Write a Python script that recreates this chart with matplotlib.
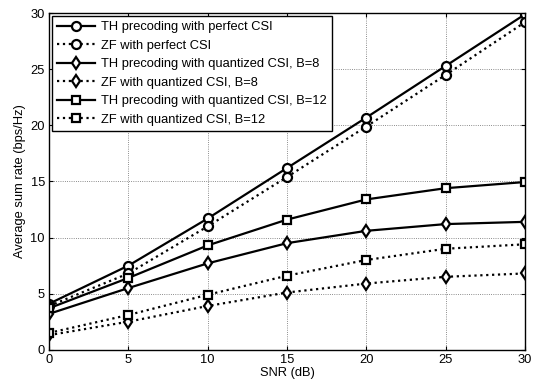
"""
    Average sum rate vs SNR
"""

from matplotlib import pyplot as plt

plt.rcParams['font.family'] = ['Liberation Sans', 'DejaVu Sans']

snr = [0, 5, 10, 15, 20, 25, 30]

th_perfect = [4.1, 7.5, 11.7, 16.2, 20.7, 25.3, 29.9]
zf_perfect = [3.9, 6.8, 11.0, 15.4, 19.9, 24.5, 29.2]
th_b8 = [3.2, 5.5, 7.7, 9.5, 10.6, 11.2, 11.4]
zf_b8 = [1.3, 2.5, 3.9, 5.1, 5.9, 6.5, 6.8]
th_b12 = [3.7, 6.4, 9.3, 11.6, 13.4, 14.4, 14.95]
zf_b12 = [1.5, 3.1, 4.9, 6.6, 8.0, 9.0, 9.4]

labels = [
    "TH precoding with perfect CSI",
    "ZF with perfect CSI",
    "TH precoding with quantized CSI, B=8",
    "ZF with quantized CSI, B=8",
    "TH precoding with quantized CSI, B=12",
    "ZF with quantized CSI, B=12",
]


def draw_fig():
    fig = plt.figure(figsize=(5.34, 3.89), dpi=100)
    ax = fig.add_axes([0.092, 0.101, 0.891, 0.865])

    series = [th_perfect, zf_perfect, th_b8, zf_b8, th_b12, zf_b12]
    markers = ["o", "o", "d", "d", "s", "s"]
    sizes = [6.5, 6.5, 6.5, 6.5, 5.5, 5.5]
    styles = ["-", ":", "-", ":", "-", ":"]
    for ys, m, ms, ls, lab in zip(series, markers, sizes, styles, labels):
        ax.plot(snr, ys, color="k", linestyle=ls, linewidth=1.6,
                marker=m, markersize=ms, markerfacecolor="white",
                markeredgecolor="k", markeredgewidth=1.6, label=lab)

    ax.set_xlim(0, 30)
    ax.set_ylim(0, 30)
    ax.set_xticks(snr)
    ax.set_yticks([0, 5, 10, 15, 20, 25, 30])
    ax.grid(True, linestyle=":", color="k", linewidth=0.6, alpha=0.6)
    ax.tick_params(direction="in", labelsize=9.3, length=3, top=True, right=True, pad=3)
    for s in ax.spines.values():
        s.set_linewidth(1.0)

    ax.set_xlabel("SNR (dB)", fontsize=9.3, labelpad=1)
    ax.set_ylabel("Average sum rate (bps/Hz)", fontsize=9.3, labelpad=3)

    leg = ax.legend(loc="upper left", fontsize=9.3, fancybox=False,
                    edgecolor="k", framealpha=1, borderaxespad=0.22,
                    handlelength=2.9, handletextpad=0.5,
                    labelspacing=0.5, borderpad=0.4)
    leg.get_frame().set_linewidth(1.0)

    plt.savefig("out.png", dpi=100)


if __name__ == "__main__":
    draw_fig()
